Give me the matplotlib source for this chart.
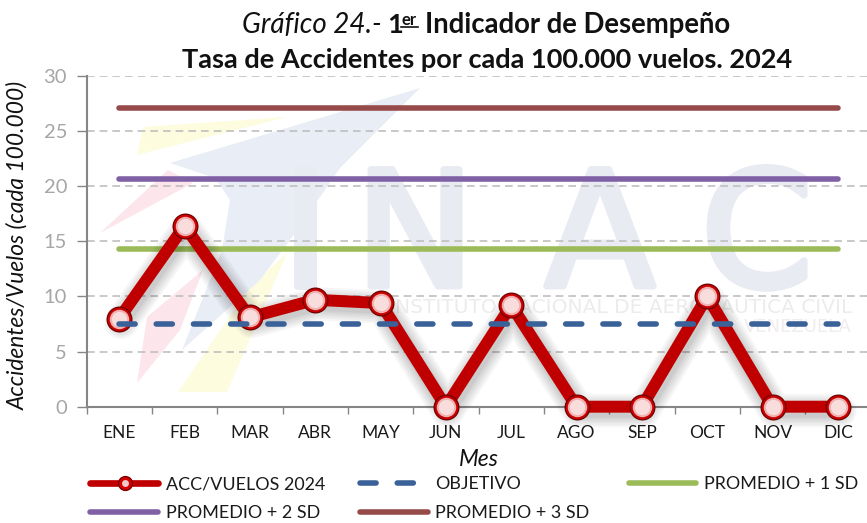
import matplotlib
matplotlib.use("Agg")
from matplotlib import pyplot as plt
from matplotlib import patheffects
from matplotlib.lines import Line2D
from matplotlib.patches import Polygon

meses = ['ENE', 'FEB', 'MAR', 'ABR', 'MAY', 'JUN', 'JUL', 'AGO', 'SEP', 'OCT', 'NOV', 'DIC']
acc_vuelos = [8.0, 16.4, 8.1, 9.7, 9.4, 0, 9.2, 0, 0, 10.0, 0, 0]
objetivo = [7.5] * 12
promedio_1sd = [14.3] * 12
promedio_2sd = [20.7] * 12
promedio_3sd = [27.1] * 12
y_ticks = [0, 5, 10, 15, 20, 25, 30]

W, H = 867, 523
plt.rcParams['font.family'] = ['Lato', 'DejaVu Sans']

INK = '#111111'
RED = '#C00000'
BLUE = '#3A6298'
GREEN = '#9BBB59'
PURPLE = '#7F60A5'
BROWN = '#964B4A'
LW = 4.0
DASH = (2.9, 3.8)


def px(x, y):
    return x / W, 1 - y / H


def draw_bubbles(ax, x, y):
    for ms, color in [(18.7, '#6e0000'), (17, '#c80000'), (14, '#f0b0b0'), (11, '#f9dcdc')]:
        ax.plot(x, y, ls='none', marker='o', ms=ms, mfc=color, mec='none', zorder=6)


def draw_watermark(fig):
    shapes = [
        ([(137, 155), (143, 127), (287, 117)], '#fdfcdf'),
        ([(100, 233), (168, 170), (193, 183)], '#fce6ec'),
        ([(137, 383), (147, 317), (203, 270), (180, 330)], '#fce6ec'),
        ([(178, 392), (227, 392), (287, 253), (250, 287)], '#fdfcdf'),
        ([(420, 88), (170, 163), (215, 178), (230, 200), (222, 250), (182, 350), (260, 280), (296, 232),
          (340, 168)], '#e9edf5'),
    ]
    for pts, color in shapes:
        fig.add_artist(Polygon([px(*p) for p in pts], closed=True, transform=fig.transFigure,
                               fc=color, ec='none', zorder=-3))
    stroke = [patheffects.withStroke(linewidth=5, foreground='#e9ebf2')]
    for letter, xc in [('I', 305), ('N', 415), ('A', 600), ('C', 757)]:
        fig.text(*px(xc, 286), letter, fontsize=115, color='#e9ebf2', ha='center', va='baseline',
                 family='DejaVu Sans', zorder=-2, path_effects=stroke)
    fig.text(*px(852, 313), 'INSTITUTO NACIONAL DE AERONÁUTICA CIVIL', fontsize=14.5, color='#ececec',
             ha='right', va='baseline', family='DejaVu Sans', zorder=-2)
    fig.text(*px(852, 332), 'VENEZUELA', fontsize=13, color='#f1ecee', ha='right', va='baseline',
             family='DejaVu Sans', zorder=-2)


fig = plt.figure(figsize=(W / 100, H / 100), dpi=100)
ax = fig.add_axes([86.5 / W, 1 - 406.7 / H, (W - 86.5) / W, (406.7 - 76) / H])
ax.patch.set_alpha(0)
draw_watermark(fig)

x = list(range(len(meses)))
ax.set_xlim(-0.5, 11.445)
ax.set_ylim(0, 30)

ax.plot(x, promedio_3sd, color=BROWN, lw=LW, solid_capstyle='round', zorder=3)
ax.plot(x, promedio_2sd, color=PURPLE, lw=LW, solid_capstyle='round', zorder=3)
ax.plot(x, promedio_1sd, color=GREEN, lw=LW, solid_capstyle='round', zorder=3)

# soft shadow under the main line
per_px = 30 / 330.7
for lw in [24, 21, 18, 15, 12, 10]:
    ax.plot([i + 0.03 for i in x], [v - 4 * per_px for v in acc_vuelos], color='black', alpha=0.035, lw=lw,
            solid_joinstyle='round', solid_capstyle='round', zorder=3.5)
ax.plot(x, acc_vuelos, color=RED, lw=8.6, solid_joinstyle='miter', zorder=5)
for xi, yi in zip(x, acc_vuelos):
    draw_bubbles(ax, [xi], [yi])
ax.plot(x, objetivo, color=BLUE, lw=LW, dashes=DASH, dash_capstyle='round', zorder=7)
for line in ax.lines:
    line.set_clip_on(False)

ax.set_yticks(y_ticks)
ax.set_xticks([i - 0.5 for i in range(12)])
ax.set_xticklabels([])
ax.set_xticks(x, minor=True)
ax.set_xticklabels(meses, minor=True, fontsize=12.5, color='#1a1a1a')
ax.tick_params(axis='x', which='minor', length=0, pad=13)
ax.tick_params(axis='x', which='major', length=5, width=1, color='#868686')
ax.tick_params(axis='y', length=7, width=1, color='#868686', labelsize=14.5, labelcolor='#a6a6a6', pad=7)
ax.grid(axis='y', color='#BFBFBF', lw=1.2, dashes=(4.6, 3.0))
ax.set_axisbelow(True)
for side in ['top', 'right']:
    ax.spines[side].set_visible(False)
for side in ['left', 'bottom']:
    ax.spines[side].set_color('#868686')
    ax.spines[side].set_linewidth(1.5)

fig.text(*px(18, 245), 'Accidentes/Vuelos (cada 100.000)', rotation=90, style='italic', fontsize=16.4,
         ha='center', va='center', color=INK)
fig.text(*px(479, 460), 'Mes', style='italic', fontsize=16.5, ha='center', va='center', color=INK)

# title, built from pieces because of the mixed styles
fig.text(*px(242, 33), 'Gráfico 24.-', style='italic', fontsize=20, ha='left', va='baseline', color=INK)
fig.text(*px(387, 33), '1', fontweight='bold', fontsize=19.6, ha='left', va='baseline', color=INK)
fig.text(*px(401, 25), 'er', fontweight='bold', fontsize=12, ha='left', va='baseline', color=INK)
fig.add_artist(Line2D([401 / W, 418 / W], [1 - 27 / H, 1 - 27 / H], color=INK, lw=1.2))
fig.text(*px(425, 33), 'Indicador de Desempeño', fontweight='bold', fontsize=19.8, ha='left', va='baseline',
         color=INK)
fig.text(*px(487, 68), 'Tasa de Accidentes por cada 100.000 vuelos. 2024', fontweight='bold', fontsize=19.5,
         ha='center', va='baseline', color=INK)

# legend placed by hand, the columns are evenly spaced in the original
legend_rows = [
    (90, 158, 166, 483, 'ACC/VUELOS 2024', dict(color=RED, lw=4.8, solid_capstyle='round')),
    (360, 420, 435, 483, 'OBJETIVO', dict(color=BLUE, lw=LW, dashes=DASH, dash_capstyle='round')),
    (629, 696, 704, 483, 'PROMEDIO + 1 SD', dict(color=GREEN, lw=LW, solid_capstyle='round')),
    (90, 158, 166, 512, 'PROMEDIO + 2 SD', dict(color=PURPLE, lw=LW, solid_capstyle='round')),
    (360, 428, 435, 512, 'PROMEDIO + 3 SD', dict(color=BROWN, lw=LW, solid_capstyle='round')),
]
for x0, x1, xt, yy, label, style in legend_rows:
    fig.add_artist(Line2D([x0 / W, x1 / W], [1 - yy / H, 1 - yy / H], **style))
    fig.text(xt / W, 1 - (yy + 1) / H, label, fontsize=12.9, ha='left', va='center', color='#1a1a1a')
for ms, color in [(11, '#7a0000'), (9, '#d40000'), (5, '#f3c9c9')]:
    fig.add_artist(Line2D([124.5 / W], [1 - 483 / H], marker='o', ms=ms, mfc=color, mec='none', ls='none'))

fig.savefig('out.png', dpi=100)
